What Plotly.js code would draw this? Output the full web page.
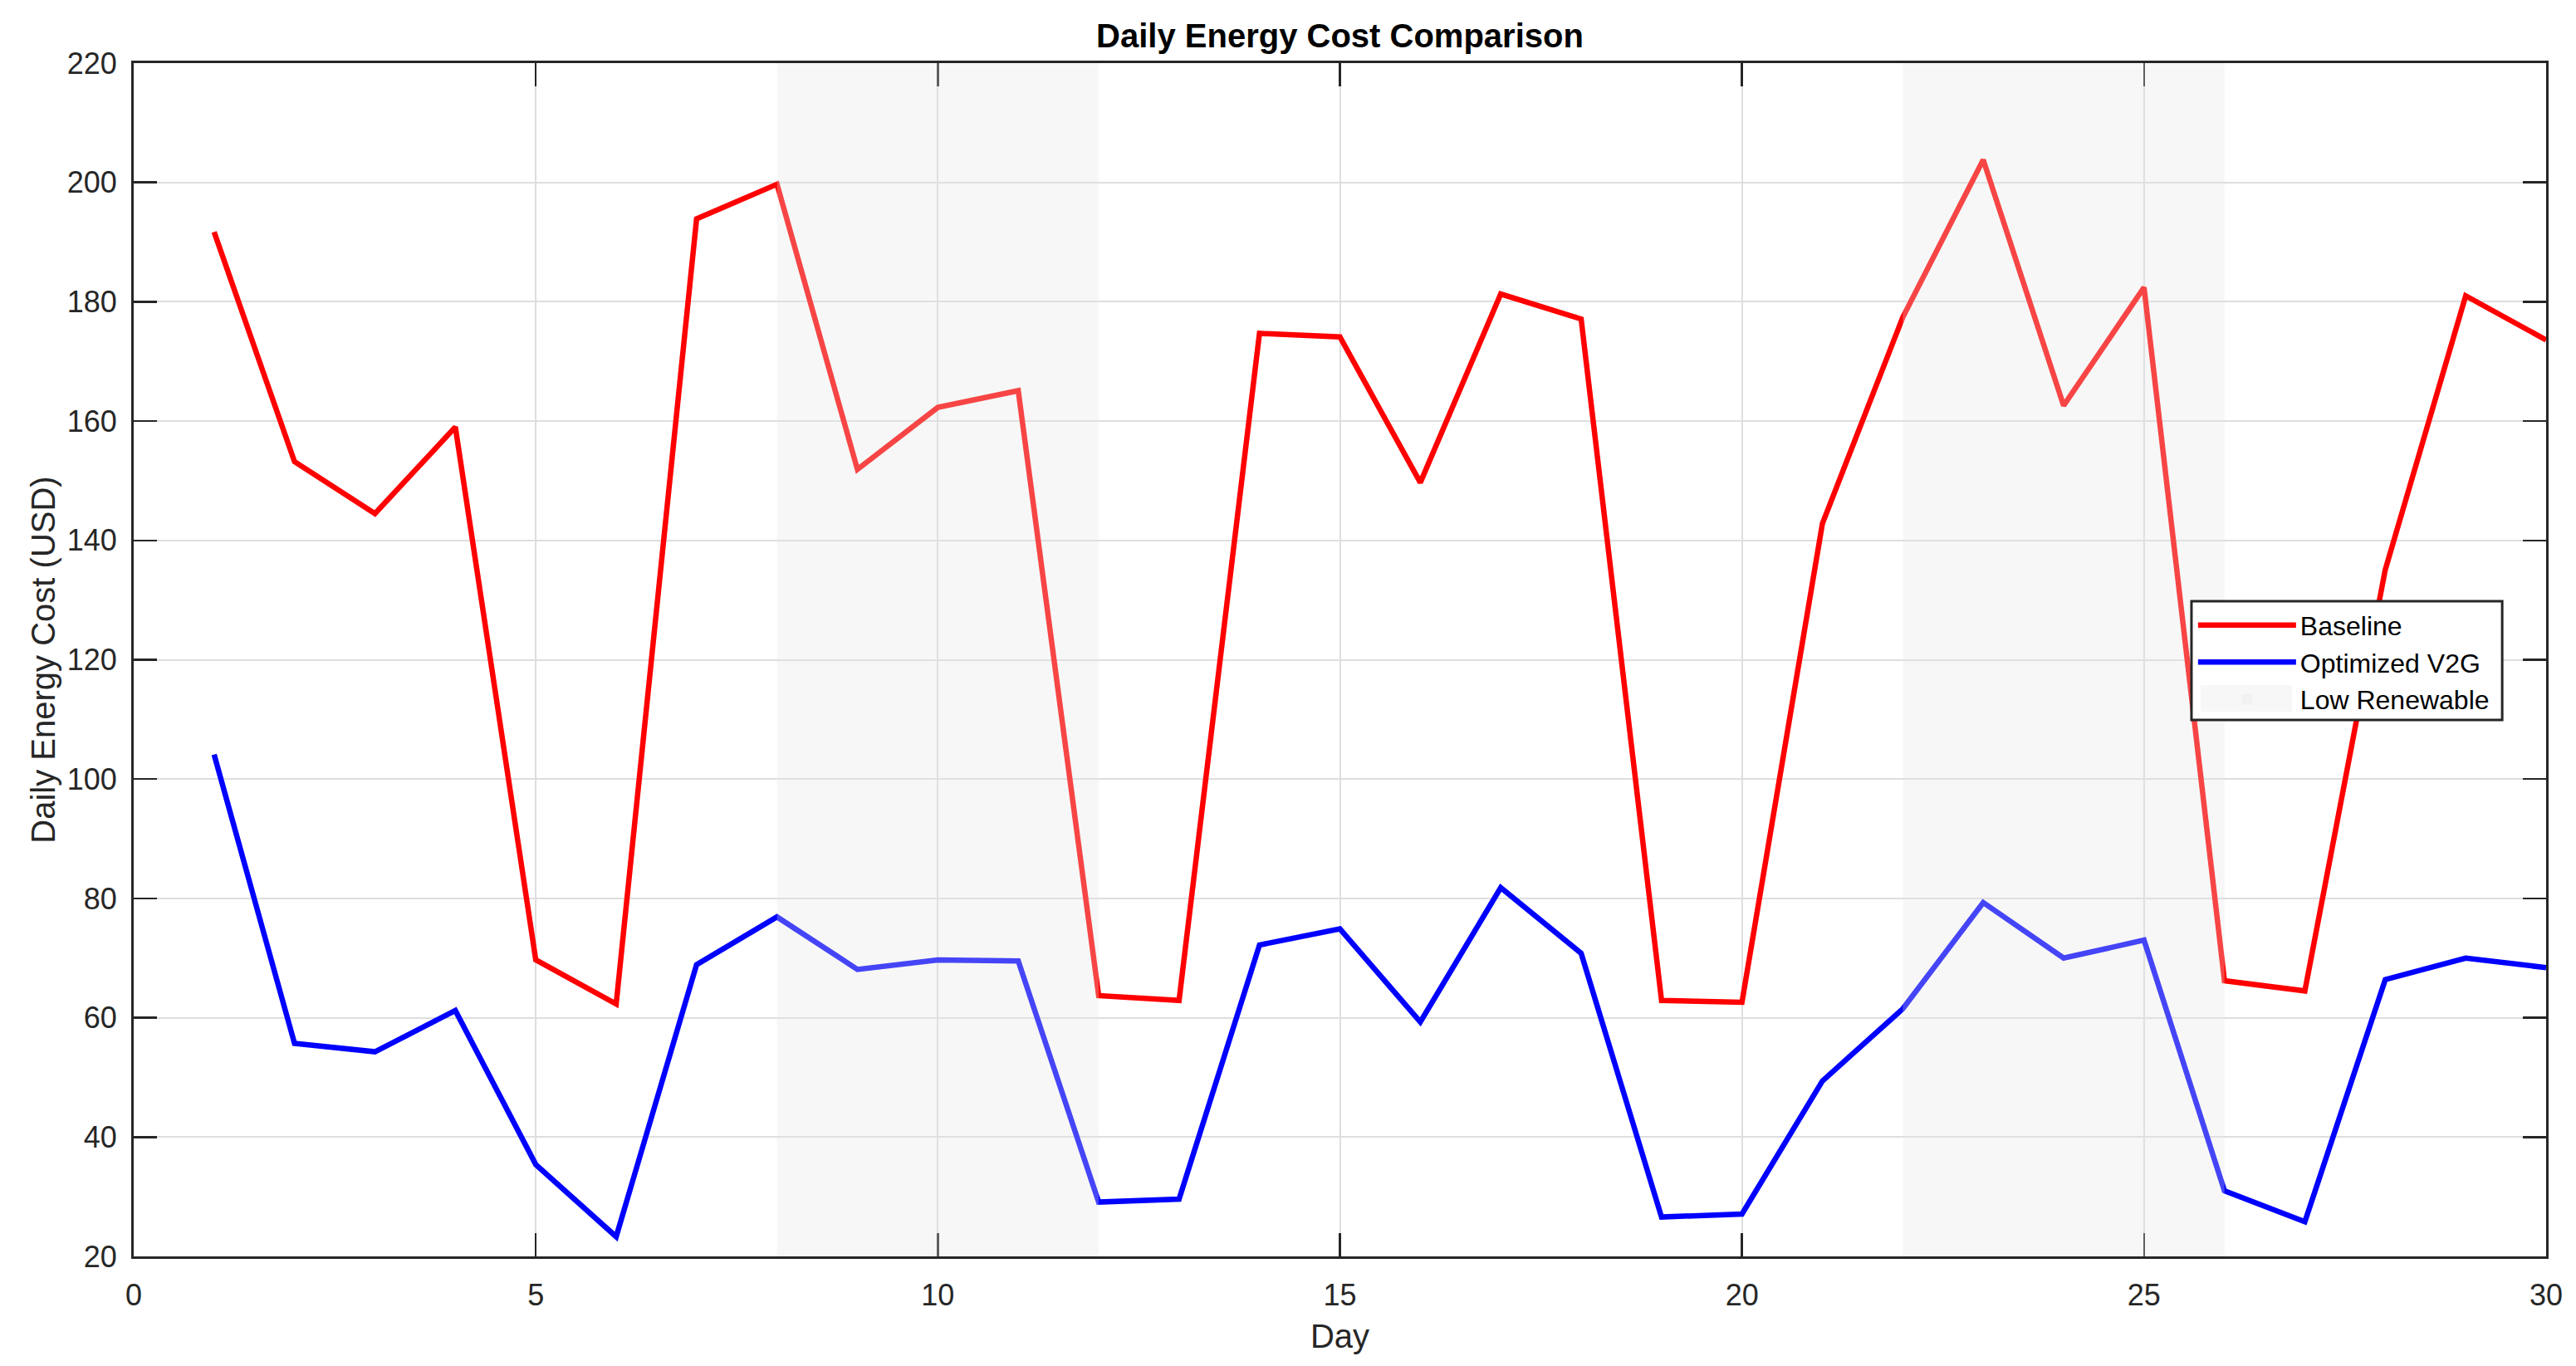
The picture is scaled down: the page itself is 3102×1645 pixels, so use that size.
<!DOCTYPE html>
<html>
<head>
<meta charset="utf-8">
<script src="https://cdn.plot.ly/plotly-3.0.1.min.js"></script>
<style>html,body{margin:0;padding:0;background:#fff;}#chart{width:3102px;height:1645px;}</style>
</head>
<body>
<div id="chart"></div>
<script>
var days = [1,2,3,4,5,6,7,8,9,10,11,12,13,14,15,16,17,18,19,20,21,22,23,24,25,26,27,28,29,30];
var baselineCost = [191.7,153.2,144.5,159.0,69.7,62.3,193.9,199.7,151.9,162.3,165.1,63.7,62.9,174.7,174.1,149.7,181.3,177.1,62.9,62.6,142.8,177.4,203.8,162.6,182.4,66.2,64.5,135.1,181.0,173.6];
var optimizedCost = [104.1,55.7,54.3,61.2,35.4,23.3,68.9,76.9,68.1,69.7,69.5,29.1,29.6,72.2,74.9,59.3,81.8,70.8,26.6,27.1,49.4,61.5,79.3,70.0,73.0,31.0,25.8,66.4,70.0,68.4];
var lowRenewableStart = [8, 22];
var lowRenewableEnd = [12, 26];
var xTicks = [0,5,10,15,20,25,30];
var yTicks = [20,40,60,80,100,120,140,160,180,200,220];

var axisColor = 'rgb(38,38,38)';
var fontFam = '"Liberation Sans", Arial, Helvetica, sans-serif';

var traces = [
  {type:'scatter', mode:'lines', x:days, y:baselineCost, name:'Baseline',
   line:{color:'#ff0000', width:6.5}},
  {type:'scatter', mode:'lines', x:days, y:optimizedCost, name:'Optimized V2G',
   line:{color:'#0000ff', width:6.5}}
];

var shapes = lowRenewableStart.map(function(s, i){
  return {type:'rect', xref:'x', yref:'paper', x0:s, x1:lowRenewableEnd[i], y0:0, y1:1,
    fillcolor:'rgb(230,230,230)', opacity:0.3, line:{width:0}, layer:'above',
    name:'Low Renewable', showlegend: i === 0, legendgroup:'lowren'};
});
// legend box background/border and the "Low Renewable" swatch (paper coordinates)
shapes.push({type:'rect', xref:'paper', yref:'paper', x0:0.8530, x1:0.9818, y0:0.4495, y1:0.5491,
  fillcolor:'#ffffff', line:{color:axisColor, width:3}, layer:'above'});
shapes.push({type:'rect', xref:'paper', yref:'paper', x0:0.8568, x1:0.8947, y0:0.4565, y1:0.4788,
  fillcolor:'#f7f7f7', line:{width:0}, layer:'above'});

var axisCommon = {
  showline:true, linecolor:axisColor, linewidth:3, mirror:'ticks',
  ticks:'inside', ticklen:28, tickwidth:2.5, tickcolor:axisColor,
  showgrid:true, gridcolor:'rgb(222,222,222)', gridwidth:2,
  zeroline:false, tickfont:{family:fontFam, size:36, color:axisColor},
  automargin:false
};

var layout = {
  width:3102, height:1645,
  margin:{l:161, r:36, t:76, b:132, pad:0},
  paper_bgcolor:'#ffffff', plot_bgcolor:'#ffffff',
  font:{family:fontFam, color:axisColor},
  title:{text:'<b>Daily Energy Cost Comparison</b>', x:0.5, xref:'paper', xanchor:'center',
         y:0.974, yref:'container', yanchor:'middle', font:{family:fontFam, size:40, color:'#000000'}},
  xaxis:Object.assign({}, axisCommon, {range:[0,30], tickvals:xTicks, ticktext:xTicks.map(String),
         ticklabelstandoff:13,
         title:{text:'Day', font:{family:fontFam, size:40, color:axisColor}, standoff:16}}),
  yaxis:Object.assign({}, axisCommon, {range:[20,220], tickvals:yTicks, ticktext:yTicks.map(String),
         ticklabelstandoff:10,
         title:{text:'Daily Energy Cost (USD)', font:{family:fontFam, size:40, color:axisColor}, standoff:2}}),
  shapes:shapes,
  showlegend:true,
  legend:{x:0.8540, y:0.5481, xanchor:'left', yanchor:'top',
          bgcolor:'rgba(0,0,0,0)', borderwidth:0,
          font:{family:fontFam, size:32, color:'#000000'},
          itemwidth:118, tracegroupgap:0}
};

Plotly.newPlot('chart', traces, layout, {displayModeBar:false, staticPlot:true});
</script>
</body>
</html>
